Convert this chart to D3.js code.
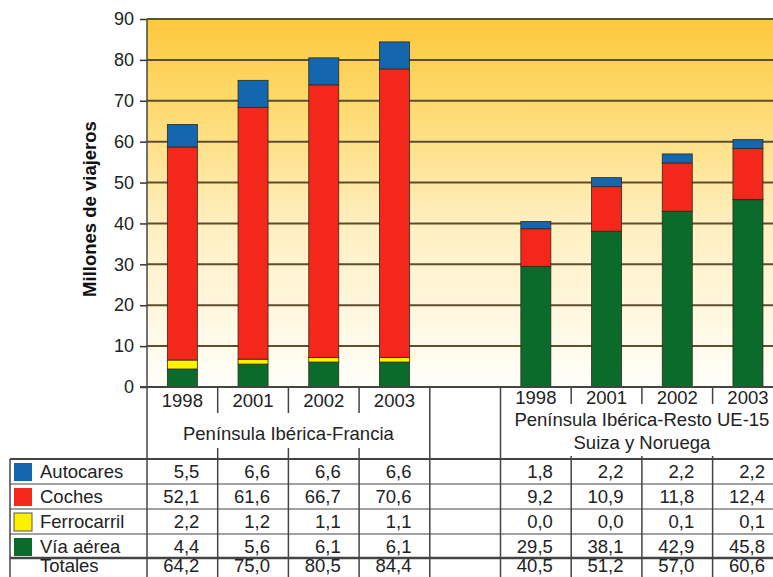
<!DOCTYPE html>
<html lang="es">
<head>
  <meta charset="UTF-8">
  <title>Millones de viajeros</title>
  <style>
    body { margin: 0; background: #fff; }
    svg { display: block; font-family: Arial, "Liberation Sans", sans-serif; }
  </style>
</head>
<body>
  <div id="chart"></div>

  <script src="https://d3js.org/d3.v7.min.js"></script>
  <script>
    const years = ['1998', '2001', '2002', '2003'];
    const groupNames = [['Península Ibérica-Francia'], ['Península Ibérica-Resto UE-15', 'Suiza y Noruega']];
    const categories = ['F1998', 'F2001', 'F2002', 'F2003', 'R1998', 'R2001', 'R2002', 'R2003'];

    const autocares   = [5.5, 6.6, 6.6, 6.6, 1.8, 2.2, 2.2, 2.2];
    const coches      = [52.1, 61.6, 66.7, 70.6, 9.2, 10.9, 11.8, 12.4];
    const ferrocarril = [2.2, 1.2, 1.1, 1.1, 0.0, 0.0, 0.1, 0.1];
    const viaAerea    = [4.4, 5.6, 6.1, 6.1, 29.5, 38.1, 42.9, 45.8];
    const totales     = [64.2, 75.0, 80.5, 84.4, 40.5, 51.2, 57.0, 60.6];

    const yTicks = [0, 10, 20, 30, 40, 50, 60, 70, 80, 90];

    const series = [
      { key: 'autocares', label: 'Autocares', color: '#1466ae', values: autocares },
      { key: 'coches', label: 'Coches', color: '#f3281a', values: coches },
      { key: 'ferrocarril', label: 'Ferrocarril', color: '#fff000', values: ferrocarril },
      { key: 'viaAerea', label: 'Vía aérea', color: '#0b6b2a', values: viaAerea }
    ];

    const width = 773;
    const height = 577;
    const left = 147;
    const step = 70.7;

    // one empty slot separates the two groups
    const slots = [...categories.slice(0, 4), 'gap', ...categories.slice(4)];
    const rows = categories.map((c, i) => {
      const r = { cat: c };
      series.forEach(s => { r[s.key] = s.values[i]; });
      return r;
    });

    const x = d3.scaleBand()
      .domain(slots)
      .range([left, left + step * slots.length])
      .padding(0);

    const y = d3.scaleLinear()
      .domain([0, 90])
      .range([387, 19]);

    const barW = 30;
    const fmt = v => d3.format('.1f')(v).replace('.', ',');

    const svg = d3.select('#chart')
      .append('svg')
      .attr('width', width)
      .attr('height', height);

    // background gradient
    const grad = svg.append('defs').append('linearGradient')
      .attr('id', 'bg')
      .attr('x1', 0).attr('y1', 0).attr('x2', 0).attr('y2', 1);
    grad.append('stop').attr('offset', '0%').attr('stop-color', '#fdc83c');
    grad.append('stop').attr('offset', '25%').attr('stop-color', '#fedb72');
    grad.append('stop').attr('offset', '55%').attr('stop-color', '#ffefbf');
    grad.append('stop').attr('offset', '100%').attr('stop-color', '#fffef9');

    svg.append('rect')
      .attr('x', left)
      .attr('y', y(90))
      .attr('width', width - left)
      .attr('height', y(0) - y(90))
      .attr('fill', 'url(#bg)');

    // gridlines
    svg.append('g')
      .selectAll('line')
      .data(yTicks.filter(t => t > 0))
      .join('line')
      .attr('x1', left)
      .attr('x2', width)
      .attr('y1', d => y(d))
      .attr('y2', d => y(d))
      .attr('stroke', '#5e4d2e')
      .attr('stroke-width', 2);

    // stacked bars
    const stack = d3.stack().keys(['viaAerea', 'ferrocarril', 'coches', 'autocares']);
    const stacked = stack(rows);
    const colorOf = k => series.find(s => s.key === k).color;

    svg.append('g')
      .selectAll('g')
      .data(stacked)
      .join('g')
      .attr('fill', d => colorOf(d.key))
      .selectAll('rect')
      .data(d => d)
      .join('rect')
      .attr('x', d => x(d.data.cat) + x.bandwidth() / 2 - barW / 2)
      .attr('y', d => y(d[1]))
      .attr('width', barW)
      .attr('height', d => y(d[0]) - y(d[1]))
      .attr('stroke', '#2a2a1e')
      .attr('stroke-width', 0.8);

    // y axis
    const yAxis = svg.append('g')
      .attr('transform', `translate(${left},0)`)
      .call(d3.axisLeft(y).tickValues(yTicks).tickSize(7).tickPadding(6));
    yAxis.select('.domain').remove();
    yAxis.selectAll('.tick line').attr('stroke', '#333').attr('stroke-width', 1.5);
    yAxis.selectAll('.tick text')
      .attr('fill', '#222')
      .style('font-size', '18px');

    svg.append('text')
      .attr('transform', 'rotate(-90)')
      .attr('x', -209)
      .attr('y', 96)
      .attr('text-anchor', 'middle')
      .style('font-size', '18.5px')
      .style('font-weight', 'bold')
      .attr('fill', '#111')
      .text('Millones de viajeros');

    // frame lines
    const lines = svg.append('g').attr('stroke', '#444').attr('stroke-width', 1.5);
    lines.append('line').attr('x1', left).attr('x2', width).attr('y1', y(90)).attr('y2', y(90)).attr('stroke', '#555');
    lines.append('line').attr('x1', left - 7).attr('x2', width).attr('y1', y(0)).attr('y2', y(0)).attr('stroke-width', 2);
    lines.append('line').attr('x1', left).attr('x2', left).attr('y1', y(90)).attr('y2', height);

    // group borders around the gap slot
    const gapL = x('gap');
    const gapR = x('gap') + x.bandwidth();
    [gapL, gapR].forEach(gx => {
      lines.append('line').attr('x1', gx).attr('x2', gx).attr('y1', y(0)).attr('y2', height);
    });

    // year dividers
    const dividers = [
      ...categories.slice(1, 4).map(c => ({ x: x(c), top: 413, bottom: 448 })),
      ...categories.slice(5).map(c => ({ x: x(c), top: 404, bottom: 456 }))
    ];
    dividers.forEach(d => {
      lines.append('line').attr('x1', d.x).attr('x2', d.x).attr('y1', y(0)).attr('y2', d.top);
      lines.append('line').attr('x1', d.x).attr('x2', d.x).attr('y1', d.bottom).attr('y2', height);
    });

    // year labels
    svg.append('g')
      .selectAll('text')
      .data(categories)
      .join('text')
      .attr('x', d => x(d) + x.bandwidth() / 2)
      .attr('y', (d, i) => i < 4 ? 407 : 404)
      .attr('text-anchor', 'middle')
      .style('font-size', '18.5px')
      .attr('fill', '#222')
      .text((d, i) => years[i % 4]);

    // group labels
    const groupCenters = [
      (x(categories[0]) + x(categories[3]) + x.bandwidth()) / 2,
      (x(categories[4]) + x(categories[7]) + x.bandwidth()) / 2
    ];
    const groupBaselines = [[440], [426, 449]];
    groupNames.forEach((lns, g) => {
      lns.forEach((t, k) => {
        svg.append('text')
          .attr('x', groupCenters[g])
          .attr('y', groupBaselines[g][k])
          .attr('text-anchor', 'middle')
          .style('font-size', '18.5px')
          .attr('fill', '#222')
          .text(t);
      });
    });

    // data table
    const rowTops = [459, 484, 509, 534, 558];
    const tableRows = [...series.map(s => ({ label: s.label, color: s.color, values: s.values })),
      { label: 'Totales', color: null, values: totales }];

    rowTops.forEach((ry, i) => {
      lines.append('line')
        .attr('x1', 10).attr('x2', width)
        .attr('y1', ry).attr('y2', ry)
        .attr('stroke-width', i === 4 ? 2.5 : (i === 0 ? 2 : 1.2));
    });
    lines.append('line').attr('x1', 10).attr('x2', 10).attr('y1', rowTops[0]).attr('y2', height);

    tableRows.forEach((r, i) => {
      const base = i === 4 ? 572 : rowTops[i] + 18.5;
      if (r.color) {
        svg.append('rect')
          .attr('x', 14)
          .attr('y', rowTops[i] + 4)
          .attr('width', 18)
          .attr('height', 18)
          .attr('fill', r.color)
          .attr('stroke', r.label === 'Ferrocarril' ? '#555' : 'none')
          .attr('stroke-width', 1);
      }
      svg.append('text')
        .attr('x', 40)
        .attr('y', base)
        .style('font-size', '18.5px')
        .attr('fill', '#222')
        .text(r.label);
      svg.append('g')
        .selectAll('text')
        .data(r.values)
        .join('text')
        .attr('x', (d, j) => x(categories[j]) + x.bandwidth() / 2 + 17)
        .attr('y', base)
        .attr('text-anchor', 'end')
        .style('font-size', '18.5px')
        .attr('fill', '#222')
        .text(d => fmt(d));
    });
  </script>
</body>
</html>
